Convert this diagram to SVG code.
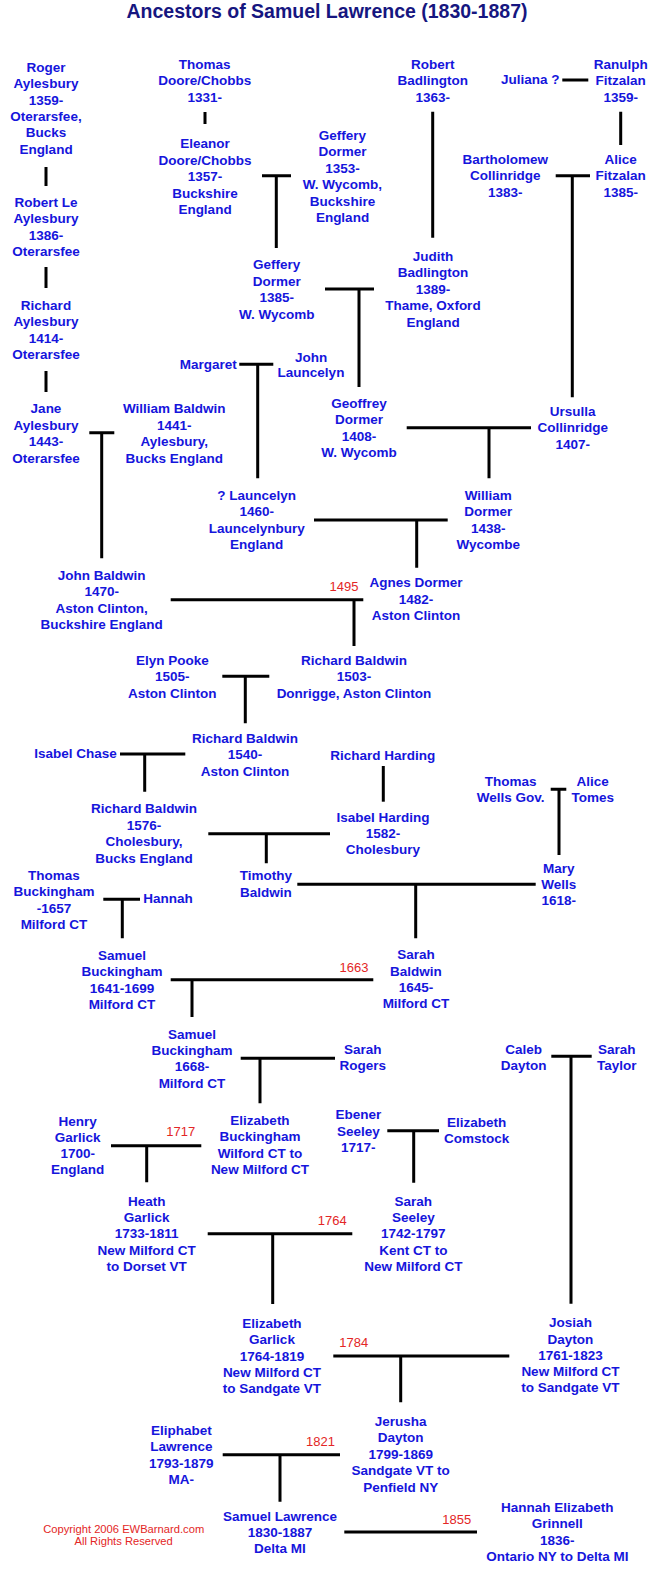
<svg xmlns="http://www.w3.org/2000/svg" width="655" height="1574" viewBox="0 0 655 1574">
<style>
.n{font-family:"Liberation Sans",Arial,sans-serif;font-weight:bold;font-size:13.5px;fill:#1515DC;text-anchor:middle}
.e{text-anchor:end}
.s{text-anchor:start}
.r{font-family:"Liberation Sans",Arial,sans-serif;font-size:13px;fill:#E32626;text-anchor:middle}
.c{font-family:"Liberation Sans",Arial,sans-serif;font-size:11.2px;fill:#E32626;text-anchor:middle}
.t{font-family:"Liberation Sans",Arial,sans-serif;font-weight:bold;font-size:19.5px;fill:#161680;text-anchor:middle}
.l{stroke:#000;stroke-width:3;fill:none}
</style>
<rect width="655" height="1574" fill="#fff"/>
<text class="t" x="327" y="18">Ancestors of Samuel Lawrence (1830-1887)</text>
<g id="connectors">
<path class="l" d="M46 167V186M46 267V288M46 371V392M205 112V124"/>
<path class="l" d="M262 175.7H291M276.3 175.7V248"/>
<path class="l" d="M432.7 111.7V237.7M562.3 80H588.3M620.7 111.7V145"/>
<path class="l" d="M555.7 175.7H590M572.3 175.7V397.3"/>
<path class="l" d="M325 289H374M359 289V387"/>
<path class="l" d="M239.3 364.3H273.3M257.7 364.3V478.3"/>
<path class="l" d="M89.3 432.7H114.3M101.7 432.7V558.3"/>
<path class="l" d="M406.7 427.7H531M489 427.7V478.3"/>
<path class="l" d="M314 520H447.7M416.7 520V567.7"/>
<path class="l" d="M170.7 599.7H363.3M354 599.7V646"/>
<path class="l" d="M222.3 676.3H269.3M245.3 676.3V723.3"/>
<path class="l" d="M120 754H185.3M144.7 754V791.7"/>
<path class="l" d="M383.3 766V801.7"/>
<path class="l" d="M550.7 789.3H566.3M559 789.3V855"/>
<path class="l" d="M208.3 833.7H330M266.3 833.7V863.3"/>
<path class="l" d="M297.3 884.3H535.7M415.7 884.3V938.3"/>
<path class="l" d="M103.3 899.3H140M122.3 899.3V938.3"/>
<path class="l" d="M170.7 979.7H373.3M192 979.7V1017"/>
<path class="l" d="M240.7 1058.3H335M260 1058.3V1103.3"/>
<path class="l" d="M551.3 1056.3H591.7M571 1056.3V1303.7"/>
<path class="l" d="M111 1145.7H201.3M146.7 1145.7V1182.3"/>
<path class="l" d="M387.3 1130.7H439M413.7 1130.7V1182.7"/>
<path class="l" d="M207.7 1233.7H352.3M272.7 1233.7V1304"/>
<path class="l" d="M333.3 1356H509.3M400.7 1356V1402.3"/>
<path class="l" d="M222.7 1454.7H340M280 1454.7V1501.7"/>
<path class="l" d="M344.3 1532H477"/>
</g>
<g id="dates">
<text class="r" x="344" y="590.7">1495</text>
<text class="r" x="354" y="971.7">1663</text>
<text class="r" x="180.7" y="1136.4">1717</text>
<text class="r" x="332.3" y="1225">1764</text>
<text class="r" x="353.7" y="1347.4">1784</text>
<text class="r" x="320.5" y="1446">1821</text>
<text class="r" x="456.7" y="1524">1855</text>
</g>
<g id="roger"><text class="n" x="46" y="71.7"><tspan x="46">Roger</tspan><tspan x="46" dy="16.4">Aylesbury</tspan><tspan x="46" dy="16.4">1359-</tspan><tspan x="46" dy="16.4">Oterarsfee,</tspan><tspan x="46" dy="16.4">Bucks</tspan><tspan x="46" dy="16.4">England</tspan></text></g>
<g id="robertle"><text class="n" x="46" y="207"><tspan x="46">Robert Le</tspan><tspan x="46" dy="16.4">Aylesbury</tspan><tspan x="46" dy="16.4">1386-</tspan><tspan x="46" dy="16.4">Oterarsfee</tspan></text></g>
<g id="richardA"><text class="n" x="46" y="309.7"><tspan x="46">Richard</tspan><tspan x="46" dy="16.4">Aylesbury</tspan><tspan x="46" dy="16.4">1414-</tspan><tspan x="46" dy="16.4">Oterarsfee</tspan></text></g>
<g id="janeA"><text class="n" x="46" y="413.4"><tspan x="46">Jane</tspan><tspan x="46" dy="16.4">Aylesbury</tspan><tspan x="46" dy="16.4">1443-</tspan><tspan x="46" dy="16.4">Oterarsfee</tspan></text></g>
<g id="thomasD"><text class="n" x="204.7" y="68.7"><tspan x="204.7">Thomas</tspan><tspan x="204.7" dy="16.4">Doore/Chobbs</tspan><tspan x="204.7" dy="16.4">1331-</tspan></text></g>
<g id="eleanor"><text class="n" x="205" y="148.4"><tspan x="205">Eleanor</tspan><tspan x="205" dy="16.4">Doore/Chobbs</tspan><tspan x="205" dy="16.4">1357-</tspan><tspan x="205" dy="16.4">Buckshire</tspan><tspan x="205" dy="16.4">England</tspan></text></g>
<g id="gefferyD1353"><text class="n" x="342.5" y="140"><tspan x="342.5">Geffery</tspan><tspan x="342.5" dy="16.4">Dormer</tspan><tspan x="342.5" dy="16.4">1353-</tspan><tspan x="342.5" dy="16.4">W. Wycomb,</tspan><tspan x="342.5" dy="16.4">Buckshire</tspan><tspan x="342.5" dy="16.4">England</tspan></text></g>
<g id="robertB"><text class="n" x="432.7" y="68.7"><tspan x="432.7">Robert</tspan><tspan x="432.7" dy="16.4">Badlington</tspan><tspan x="432.7" dy="16.4">1363-</tspan></text></g>
<g id="juliana"><text class="n e" x="559.5" y="84">Juliana ?</text></g>
<g id="ranulph"><text class="n" x="620.7" y="68.7"><tspan x="620.7">Ranulph</tspan><tspan x="620.7" dy="16.4">Fitzalan</tspan><tspan x="620.7" dy="16.4">1359-</tspan></text></g>
<g id="aliceF"><text class="n" x="620.7" y="164"><tspan x="620.7">Alice</tspan><tspan x="620.7" dy="16.4">Fitzalan</tspan><tspan x="620.7" dy="16.4">1385-</tspan></text></g>
<g id="bartholomew"><text class="n" x="505.3" y="164"><tspan x="505.3">Bartholomew</tspan><tspan x="505.3" dy="16.4">Collinridge</tspan><tspan x="505.3" dy="16.4">1383-</tspan></text></g>
<g id="gefferyD1385"><text class="n" x="276.7" y="269.4"><tspan x="276.7">Geffery</tspan><tspan x="276.7" dy="16.4">Dormer</tspan><tspan x="276.7" dy="16.4">1385-</tspan><tspan x="276.7" dy="16.4">W. Wycomb</tspan></text></g>
<g id="judith"><text class="n" x="433" y="261"><tspan x="433">Judith</tspan><tspan x="433" dy="16.4">Badlington</tspan><tspan x="433" dy="16.4">1389-</tspan><tspan x="433" dy="16.4">Thame, Oxford</tspan><tspan x="433" dy="16.4">England</tspan></text></g>
<g id="margaret"><text class="n e" x="236.7" y="369">Margaret</text></g>
<g id="johnL"><text class="n" x="311" y="361.7"><tspan x="311">John</tspan><tspan x="311" dy="15.3">Launcelyn</tspan></text></g>
<g id="williamBaldwin"><text class="n" x="174.3" y="413.4"><tspan x="174.3">William Baldwin</tspan><tspan x="174.3" dy="16.4">1441-</tspan><tspan x="174.3" dy="16.4">Aylesbury,</tspan><tspan x="174.3" dy="16.4">Bucks England</tspan></text></g>
<g id="geoffrey"><text class="n" x="359" y="407.7"><tspan x="359">Geoffrey</tspan><tspan x="359" dy="16.4">Dormer</tspan><tspan x="359" dy="16.4">1408-</tspan><tspan x="359" dy="16.4">W. Wycomb</tspan></text></g>
<g id="ursulla"><text class="n" x="572.7" y="416"><tspan x="572.7">Ursulla</tspan><tspan x="572.7" dy="16.4">Collinridge</tspan><tspan x="572.7" dy="16.4">1407-</tspan></text></g>
<g id="qLauncelyn"><text class="n" x="256.7" y="499.7"><tspan x="256.7">? Launcelyn</tspan><tspan x="256.7" dy="16.4">1460-</tspan><tspan x="256.7" dy="16.4">Launcelynbury</tspan><tspan x="256.7" dy="16.4">England</tspan></text></g>
<g id="williamDormer"><text class="n" x="488.3" y="500"><tspan x="488.3">William</tspan><tspan x="488.3" dy="16.4">Dormer</tspan><tspan x="488.3" dy="16.4">1438-</tspan><tspan x="488.3" dy="16.4">Wycombe</tspan></text></g>
<g id="johnBaldwin"><text class="n" x="101.7" y="579.7"><tspan x="101.7">John Baldwin</tspan><tspan x="101.7" dy="16.4">1470-</tspan><tspan x="101.7" dy="16.4">Aston Clinton,</tspan><tspan x="101.7" dy="16.4">Buckshire England</tspan></text></g>
<g id="agnes"><text class="n" x="416" y="587.4"><tspan x="416">Agnes Dormer</tspan><tspan x="416" dy="16.4">1482-</tspan><tspan x="416" dy="16.4">Aston Clinton</tspan></text></g>
<g id="richardB1503"><text class="n" x="354" y="665"><tspan x="354">Richard Baldwin</tspan><tspan x="354" dy="16.4">1503-</tspan><tspan x="354" dy="16.4">Donrigge, Aston Clinton</tspan></text></g>
<g id="elyn"><text class="n" x="172.3" y="665"><tspan x="172.3">Elyn Pooke</tspan><tspan x="172.3" dy="16.4">1505-</tspan><tspan x="172.3" dy="16.4">Aston Clinton</tspan></text></g>
<g id="richardB1540"><text class="n" x="245" y="742.7"><tspan x="245">Richard Baldwin</tspan><tspan x="245" dy="16.4">1540-</tspan><tspan x="245" dy="16.4">Aston Clinton</tspan></text></g>
<g id="isabelChase"><text class="n e" x="116.7" y="758.4">Isabel Chase</text></g>
<g id="richardHarding"><text class="n" x="382.7" y="760">Richard Harding</text></g>
<g id="thomasWells"><text class="n" x="510.7" y="785.7"><tspan x="510.7">Thomas</tspan><tspan x="510.7" dy="16.4">Wells Gov.</tspan></text></g>
<g id="aliceTomes"><text class="n" x="592.7" y="785.7"><tspan x="592.7">Alice</tspan><tspan x="592.7" dy="16.4">Tomes</tspan></text></g>
<g id="richardB1576"><text class="n" x="144" y="813.4"><tspan x="144">Richard Baldwin</tspan><tspan x="144" dy="16.4">1576-</tspan><tspan x="144" dy="16.4">Cholesbury,</tspan><tspan x="144" dy="16.4">Bucks England</tspan></text></g>
<g id="isabelHarding"><text class="n" x="383" y="821.7"><tspan x="383">Isabel Harding</tspan><tspan x="383" dy="16.2">1582-</tspan><tspan x="383" dy="16.2">Cholesbury</tspan></text></g>
<g id="timothy"><text class="n" x="266" y="880.4"><tspan x="266">Timothy</tspan><tspan x="266" dy="16.4">Baldwin</tspan></text></g>
<g id="mary"><text class="n" x="558.7" y="872.7"><tspan x="558.7">Mary</tspan><tspan x="558.7" dy="16.2">Wells</tspan><tspan x="558.7" dy="16.2">1618-</tspan></text></g>
<g id="thomasBuck"><text class="n" x="54" y="880"><tspan x="54">Thomas</tspan><tspan x="54" dy="16.3">Buckingham</tspan><tspan x="54" dy="16.3">-1657</tspan><tspan x="54" dy="16.3">Milford CT</tspan></text></g>
<g id="hannah"><text class="n s" x="143.3" y="903.4">Hannah</text></g>
<g id="samuelB1641"><text class="n" x="122" y="960"><tspan x="122">Samuel</tspan><tspan x="122" dy="16.3">Buckingham</tspan><tspan x="122" dy="16.3">1641-1699</tspan><tspan x="122" dy="16.3">Milford CT</tspan></text></g>
<g id="sarahBaldwin"><text class="n" x="416" y="959.4"><tspan x="416">Sarah</tspan><tspan x="416" dy="16.3">Baldwin</tspan><tspan x="416" dy="16.3">1645-</tspan><tspan x="416" dy="16.3">Milford CT</tspan></text></g>
<g id="samuelB1668"><text class="n" x="192" y="1038.7"><tspan x="192">Samuel</tspan><tspan x="192" dy="16.3">Buckingham</tspan><tspan x="192" dy="16.3">1668-</tspan><tspan x="192" dy="16.3">Milford CT</tspan></text></g>
<g id="sarahRogers"><text class="n" x="362.7" y="1054"><tspan x="362.7">Sarah</tspan><tspan x="362.7" dy="16">Rogers</tspan></text></g>
<g id="caleb"><text class="n" x="523.7" y="1053.7"><tspan x="523.7">Caleb</tspan><tspan x="523.7" dy="16.3">Dayton</tspan></text></g>
<g id="sarahTaylor"><text class="n" x="616.7" y="1053.7"><tspan x="616.7">Sarah</tspan><tspan x="616.7" dy="16.3">Taylor</tspan></text></g>
<g id="henry"><text class="n" x="77.7" y="1125.7"><tspan x="77.7">Henry</tspan><tspan x="77.7" dy="16.2">Garlick</tspan><tspan x="77.7" dy="16.2">1700-</tspan><tspan x="77.7" dy="16.2">England</tspan></text></g>
<g id="elizBuck"><text class="n" x="260" y="1125"><tspan x="260">Elizabeth</tspan><tspan x="260" dy="16.3">Buckingham</tspan><tspan x="260" dy="16.3">Wilford CT to</tspan><tspan x="260" dy="16.3">New Milford CT</tspan></text></g>
<g id="heath"><text class="n" x="146.7" y="1205.7"><tspan x="146.7">Heath</tspan><tspan x="146.7" dy="16.3">Garlick</tspan><tspan x="146.7" dy="16.3">1733-1811</tspan><tspan x="146.7" dy="16.3">New Milford CT</tspan><tspan x="146.7" dy="16.3">to Dorset VT</tspan></text></g>
<g id="ebener"><text class="n" x="358.3" y="1119"><tspan x="358.3">Ebener</tspan><tspan x="358.3" dy="16.7">Seeley</tspan><tspan x="358.3" dy="16.7">1717-</tspan></text></g>
<g id="elizComstock"><text class="n" x="476.7" y="1127.4"><tspan x="476.7">Elizabeth</tspan><tspan x="476.7" dy="16">Comstock</tspan></text></g>
<g id="sarahSeeley"><text class="n" x="413.3" y="1205.7"><tspan x="413.3">Sarah</tspan><tspan x="413.3" dy="16.3">Seeley</tspan><tspan x="413.3" dy="16.3">1742-1797</tspan><tspan x="413.3" dy="16.3">Kent CT to</tspan><tspan x="413.3" dy="16.3">New Milford CT</tspan></text></g>
<g id="josiah"><text class="n" x="570.5" y="1327.2"><tspan x="570.5">Josiah</tspan><tspan x="570.5" dy="16.3">Dayton</tspan><tspan x="570.5" dy="16.3">1761-1823</tspan><tspan x="570.5" dy="16.3">New Milford CT</tspan><tspan x="570.5" dy="16.3">to Sandgate VT</tspan></text></g>
<g id="elizGarlick"><text class="n" x="272" y="1328"><tspan x="272">Elizabeth</tspan><tspan x="272" dy="16.3">Garlick</tspan><tspan x="272" dy="16.3">1764-1819</tspan><tspan x="272" dy="16.3">New Milford CT</tspan><tspan x="272" dy="16.3">to Sandgate VT</tspan></text></g>
<g id="jerusha"><text class="n" x="400.7" y="1426"><tspan x="400.7">Jerusha</tspan><tspan x="400.7" dy="16.4">Dayton</tspan><tspan x="400.7" dy="16.4">1799-1869</tspan><tspan x="400.7" dy="16.4">Sandgate VT to</tspan><tspan x="400.7" dy="16.4">Penfield NY</tspan></text></g>
<g id="eliphabet"><text class="n" x="181.3" y="1434.7"><tspan x="181.3">Eliphabet</tspan><tspan x="181.3" dy="16.4">Lawrence</tspan><tspan x="181.3" dy="16.4">1793-1879</tspan><tspan x="181.3" dy="16.4">MA-</tspan></text></g>
<g id="samuelL"><text class="n" x="280" y="1521"><tspan x="280">Samuel Lawrence</tspan><tspan x="280" dy="16.2">1830-1887</tspan><tspan x="280" dy="16.2">Delta MI</tspan></text></g>
<g id="hannahG"><text class="n" x="557.3" y="1512"><tspan x="557.3">Hannah Elizabeth</tspan><tspan x="557.3" dy="16.3">Grinnell</tspan><tspan x="557.3" dy="16.3">1836-</tspan><tspan x="557.3" dy="16.3">Ontario NY to Delta MI</tspan></text></g>
<g id="copyright"><text class="c" x="123.7" y="1533"><tspan x="123.7">Copyright 2006 EWBarnard.com</tspan><tspan x="123.7" dy="12">All Rights Reserved</tspan></text></g>
</svg>
